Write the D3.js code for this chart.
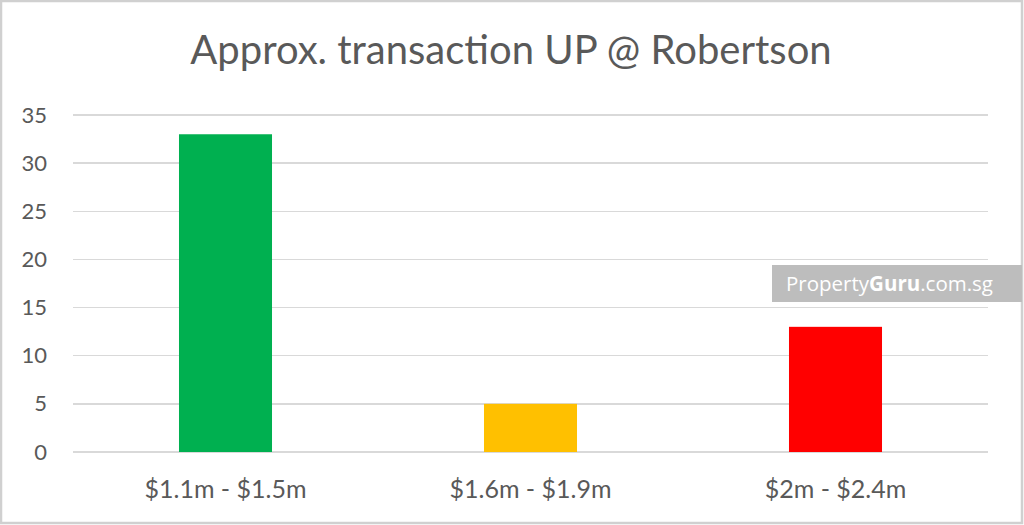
<html>
<head>
    <meta charset="utf-8" />
    <style>
      body { margin: 0; padding: 0; background: #fff; }
      svg { display: block; }
      .grid line { stroke: #d9d9d9; stroke-width: 1.5; shape-rendering: crispEdges; }
      .axis text { fill: #595959; font-family: Lato, 'Open Sans', sans-serif; }
      .axis.y text { font-size: 22px; }
      .axis.x text { font-size: 25px; }
      .title { fill: #595959; font-family: Lato, 'Open Sans', sans-serif; font-size: 40px; }
    </style>
    <script src="https://d3js.org/d3.v7.min.js"></script>
</head>
<body>
    <script>
// data
var categories = ["$1.1m - $1.5m", "$1.6m - $1.9m", "$2m - $2.4m"];
var counts = [33, 5, 13];
var barColors = ["#00b050", "#ffc000", "#ff0000"];
var yTicks = [0, 5, 10, 15, 20, 25, 30, 35];

var W = 1024, H = 525;
var margin = { top: 115, right: 36, bottom: 73, left: 73 };
var width = W - margin.left - margin.right;
var height = H - margin.top - margin.bottom;

var svg = d3.select("body").append("svg")
    .attr("width", W)
    .attr("height", H);

// outer frame
svg.append("rect")
    .attr("x", 1).attr("y", 1)
    .attr("width", W - 3).attr("height", H - 3)
    .attr("fill", "#fff")
    .attr("stroke", "#d0d0d0")
    .attr("stroke-width", 2.5);

svg.append("text")
    .attr("class", "title")
    .attr("x", 511)
    .attr("y", 64)
    .attr("text-anchor", "middle")
    .text("Approx. transaction UP @ Robertson");

var g = svg.append("g").attr("transform", "translate(" + margin.left + "," + margin.top + ")");

var x = d3.scaleBand().domain(categories).range([0, width]).paddingInner(0.695).paddingOuter(0.3475);
var y = d3.scaleLinear().domain([0, 35]).range([height, 0]);

// gridlines
g.append("g").attr("class", "grid")
    .selectAll("line").data(yTicks).enter().append("line")
    .attr("x1", 0).attr("x2", width)
    .attr("y1", function (d) { return y(d); })
    .attr("y2", function (d) { return y(d); });

// y axis labels
var yAxis = d3.axisLeft(y).tickValues(yTicks).tickSize(0).tickPadding(26);
g.append("g").attr("class", "axis y")
    .call(yAxis)
    .call(function (s) { s.select(".domain").remove(); });

// x axis labels
var xAxis = d3.axisBottom(x).tickSize(0).tickPadding(28);
g.append("g").attr("class", "axis x")
    .attr("transform", "translate(0," + height + ")")
    .call(xAxis)
    .call(function (s) { s.select(".domain").remove(); });

// bars
g.selectAll(".bar").data(counts).enter().append("rect")
    .attr("class", "bar")
    .attr("x", function (d, i) { return x(categories[i]); })
    .attr("width", x.bandwidth())
    .attr("y", function (d) { return y(d); })
    .attr("height", function (d) { return height - y(d); })
    .attr("fill", function (d, i) { return barColors[i]; });

// watermark
var wm = svg.append("g").attr("transform", "translate(772,265)");
wm.append("rect").attr("width", 250).attr("height", 37).attr("fill", "#bdbdbd");
var wt = wm.append("text")
    .attr("x", 14).attr("y", 26)
    .attr("fill", "#fff")
    .style("font-family", "'Open Sans', sans-serif")
    .style("font-size", "20.5px");
wt.append("tspan").text("Property");
wt.append("tspan").style("font-weight", "bold").text("Guru");
wt.append("tspan").text(".com.sg");
    </script>
</body>
</html>
